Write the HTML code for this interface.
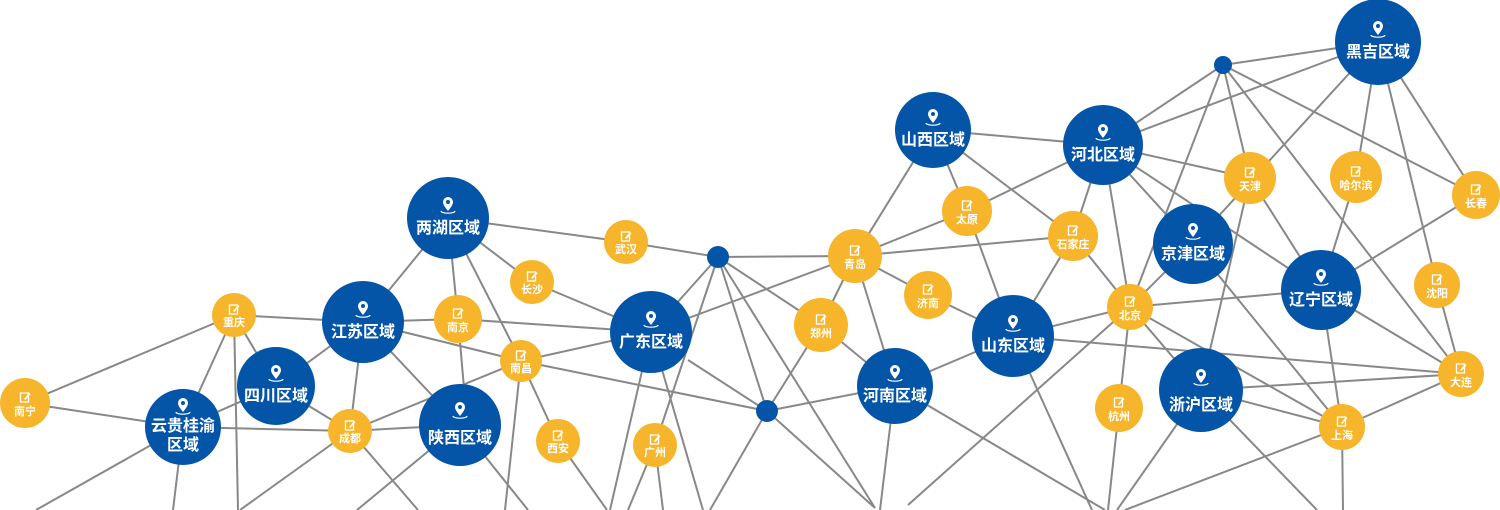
<!DOCTYPE html>
<html><head><meta charset="utf-8"><style>
html,body{margin:0;padding:0;background:#fff;}
svg{display:block;}
.b text{font:bold 16px "Liberation Sans","Noto Sans CJK SC",sans-serif;fill:#fff;text-anchor:middle;}
.y text{font:bold 11px "Liberation Sans","Noto Sans CJK SC",sans-serif;fill:#fff;text-anchor:middle;}
</style></head><body>
<svg width="1500" height="510" viewBox="0 0 1500 510" xmlns="http://www.w3.org/2000/svg">
<defs>
<g id="pin"><path d="M0,5 C-4,0 -5,-2 -5,-4 A5,5 0 1 1 5,-4 C5,-2 4,0 0,5Z" fill="#fff"/><circle cx="0" cy="-4" r="2" fill="#0455A8"/><path d="M-7,5 A7,2.2 0 0 0 7,5" fill="none" stroke="#fff" stroke-width="1.2"/></g>
<g id="ed"><rect x="-4.5" y="-4" width="8" height="9" fill="none" stroke="#fff" stroke-width="1.3"/><path d="M-1,2 L4,-4 L5.5,-2.8 L0.5,3 Z" fill="#fff"/></g>
</defs>
<g stroke="#888" stroke-width="2" fill="none">
<line x1="25" y1="403" x2="234" y2="315"/><line x1="25" y1="403" x2="183" y2="427"/>
<line x1="234" y1="315" x2="363" y2="322"/><line x1="234" y1="315" x2="183" y2="427"/><line x1="234" y1="315" x2="276" y2="386"/><line x1="234" y1="315" x2="238" y2="510"/>
<line x1="183" y1="427" x2="276" y2="386"/><line x1="183" y1="427" x2="350" y2="431"/><line x1="183" y1="427" x2="36" y2="510"/><line x1="183" y1="427" x2="173" y2="510"/>
<line x1="350" y1="431" x2="460" y2="425"/><line x1="276" y1="386" x2="363" y2="322"/><line x1="276" y1="386" x2="350" y2="431"/>
<line x1="363" y1="322" x2="448" y2="218"/><line x1="363" y1="322" x2="350" y2="431"/><line x1="363" y1="322" x2="460" y2="425"/><line x1="363" y1="322" x2="458" y2="319"/><line x1="363" y1="322" x2="521" y2="361"/>
<line x1="458" y1="319" x2="651" y2="332"/><line x1="458" y1="319" x2="464" y2="388"/>
<line x1="448" y1="218" x2="458" y2="319"/><line x1="448" y1="218" x2="521" y2="361"/><line x1="448" y1="218" x2="532" y2="282"/><line x1="532" y1="282" x2="651" y2="332"/>
<line x1="448" y1="218" x2="626" y2="242"/><line x1="626" y1="242" x2="718" y2="257"/>
<line x1="350" y1="431" x2="521" y2="361"/><line x1="350" y1="431" x2="240" y2="510"/><line x1="350" y1="431" x2="418" y2="510"/>
<line x1="460" y1="425" x2="357" y2="510"/><line x1="460" y1="425" x2="528" y2="510"/>
<line x1="521" y1="361" x2="651" y2="332"/><line x1="521" y1="361" x2="767" y2="411"/><line x1="521" y1="361" x2="505" y2="510"/><line x1="521" y1="361" x2="558" y2="441"/><line x1="558" y1="441" x2="607" y2="510"/>
<line x1="651" y1="332" x2="718" y2="257"/><line x1="651" y1="332" x2="855" y2="256"/><line x1="651" y1="332" x2="610" y2="510"/><line x1="651" y1="332" x2="703" y2="510"/><line x1="688" y1="360" x2="767" y2="411"/>
<line x1="655" y1="445" x2="718" y2="257"/><line x1="655" y1="445" x2="628" y2="510"/><line x1="655" y1="445" x2="663" y2="510"/>
<line x1="718" y1="257" x2="855" y2="256"/><line x1="718" y1="257" x2="821" y2="325"/><line x1="718" y1="257" x2="767" y2="411"/><line x1="718" y1="257" x2="875" y2="508"/>
<line x1="767" y1="411" x2="895" y2="386"/><line x1="767" y1="411" x2="821" y2="325"/><line x1="767" y1="411" x2="710" y2="510"/><line x1="767" y1="411" x2="875" y2="508"/>
<line x1="821" y1="325" x2="855" y2="256"/><line x1="821" y1="325" x2="895" y2="386"/>
<line x1="855" y1="256" x2="933" y2="130"/><line x1="855" y1="256" x2="967" y2="211"/><line x1="855" y1="256" x2="1073" y2="236"/><line x1="855" y1="256" x2="928" y2="295"/><line x1="855" y1="256" x2="895" y2="386"/>
<line x1="928" y1="295" x2="1013" y2="336"/><line x1="967" y1="211" x2="1013" y2="336"/><line x1="967" y1="211" x2="1103" y2="145"/>
<line x1="933" y1="130" x2="1103" y2="145"/><line x1="933" y1="130" x2="967" y2="211"/><line x1="933" y1="130" x2="1073" y2="236"/>
<line x1="895" y1="386" x2="1013" y2="336"/><line x1="895" y1="386" x2="1105" y2="510"/><line x1="895" y1="386" x2="880" y2="510"/>
<line x1="1013" y1="336" x2="1073" y2="236"/><line x1="1013" y1="336" x2="1130" y2="307"/><line x1="1013" y1="336" x2="1461" y2="374"/><line x1="1013" y1="336" x2="1092" y2="510"/>
<line x1="908" y1="505" x2="1130" y2="307"/>
<line x1="1073" y1="236" x2="1130" y2="307"/><line x1="1073" y1="236" x2="1103" y2="145"/>
<line x1="1130" y1="307" x2="1103" y2="145"/><line x1="1130" y1="307" x2="1193" y2="244"/><line x1="1130" y1="307" x2="1321" y2="290"/><line x1="1130" y1="307" x2="1342" y2="427"/><line x1="1130" y1="307" x2="1119" y2="408"/><line x1="1130" y1="307" x2="1201" y2="390"/><line x1="1130" y1="307" x2="1223" y2="65"/>
<line x1="1103" y1="145" x2="1223" y2="65"/><line x1="1103" y1="145" x2="1378" y2="42"/><line x1="1103" y1="145" x2="1250" y2="178"/><line x1="1103" y1="145" x2="1321" y2="290"/><line x1="1103" y1="145" x2="1193" y2="244"/>
<line x1="1223" y1="65" x2="1378" y2="42"/><line x1="1223" y1="65" x2="1250" y2="178"/><line x1="1223" y1="65" x2="1476" y2="195"/><line x1="1223" y1="65" x2="1461" y2="374"/>
<line x1="1378" y1="42" x2="1193" y2="244"/><line x1="1378" y1="42" x2="1356" y2="177"/><line x1="1356" y1="177" x2="1321" y2="290"/><line x1="1378" y1="42" x2="1437" y2="285"/><line x1="1378" y1="42" x2="1476" y2="195"/>
<line x1="1437" y1="285" x2="1461" y2="374"/><line x1="1476" y1="195" x2="1321" y2="290"/>
<line x1="1250" y1="178" x2="1321" y2="290"/><line x1="1250" y1="178" x2="1210" y2="350"/>
<line x1="1193" y1="244" x2="1342" y2="427"/><line x1="1321" y1="290" x2="1461" y2="374"/><line x1="1321" y1="290" x2="1342" y2="427"/>
<line x1="1201" y1="390" x2="1461" y2="374"/><line x1="1201" y1="390" x2="1342" y2="427"/><line x1="1461" y1="374" x2="1342" y2="427"/>
<line x1="1342" y1="427" x2="1125" y2="510"/><line x1="1342" y1="427" x2="1343" y2="510"/>
<line x1="1201" y1="390" x2="1117" y2="510"/><line x1="1201" y1="390" x2="1317" y2="510"/><line x1="1119" y1="408" x2="1108" y2="510"/>
</g>
<g fill="#0455A8"><circle cx="718" cy="257" r="11"/><circle cx="767" cy="411" r="11"/><circle cx="1223" cy="65" r="9"/></g>
<g class="b" fill="#0455A8">
<g transform="translate(1378,42)"><circle r="43"/><use href="#pin" y="-12"/><text y="15">黑吉区域</text></g>
<g transform="translate(933,130)"><circle r="38"/><use href="#pin" y="-12"/><text y="15">山西区域</text></g>
<g transform="translate(1103,145)"><circle r="40"/><use href="#pin" y="-12"/><text y="15">河北区域</text></g>
<g transform="translate(448,218)"><circle r="41"/><use href="#pin" y="-12"/><text y="15">两湖区域</text></g>
<g transform="translate(1193,244)"><circle r="40"/><use href="#pin" y="-12"/><text y="15">京津区域</text></g>
<g transform="translate(1321,290)"><circle r="40"/><use href="#pin" y="-12"/><text y="15">辽宁区域</text></g>
<g transform="translate(363,322)"><circle r="41"/><use href="#pin" y="-12"/><text y="15">江苏区域</text></g>
<g transform="translate(651,332)"><circle r="41"/><use href="#pin" y="-12"/><text y="15">广东区域</text></g>
<g transform="translate(1013,336)"><circle r="41"/><use href="#pin" y="-12"/><text y="15">山东区域</text></g>
<g transform="translate(276,386)"><circle r="39"/><use href="#pin" y="-12"/><text y="15">四川区域</text></g>
<g transform="translate(895,386)"><circle r="38"/><use href="#pin" y="-12"/><text y="15">河南区域</text></g>
<g transform="translate(1201,390)"><circle r="42"/><use href="#pin" y="-12"/><text y="20">浙沪区域</text></g>
<g transform="translate(460,425)"><circle r="41"/><use href="#pin" y="-14"/><text y="18">陕西区域</text></g>
<g transform="translate(183,427)"><circle r="38"/><use href="#pin" y="-20"/><text y="4">云贵桂渝</text><text y="23">区域</text></g>
</g>
<g class="y" fill="#F7B52C">
<g transform="translate(1250,178)"><circle r="26"/><use href="#ed" y="-6"/><text y="12">天津</text></g>
<g transform="translate(1356,177)"><circle r="26"/><use href="#ed" y="-6"/><text y="12">哈尔滨</text></g>
<g transform="translate(1476,195)"><circle r="24"/><use href="#ed" y="-6"/><text y="12">长春</text></g>
<g transform="translate(626,242)"><circle r="22"/><use href="#ed" y="-6"/><text y="11">武汉</text></g>
<g transform="translate(855,256)"><circle r="27"/><use href="#ed" y="-6"/><text y="12">青岛</text></g>
<g transform="translate(967,211)"><circle r="25"/><use href="#ed" y="-6"/><text y="12">太原</text></g>
<g transform="translate(1073,236)"><circle r="25"/><use href="#ed" y="-6"/><text y="12">石家庄</text></g>
<g transform="translate(532,282)"><circle r="22"/><use href="#ed" y="-6"/><text y="11">长沙</text></g>
<g transform="translate(928,295)"><circle r="24"/><use href="#ed" y="-6"/><text y="12">济南</text></g>
<g transform="translate(1437,285)"><circle r="23"/><use href="#ed" y="-6"/><text y="12">沈阳</text></g>
<g transform="translate(234,315)"><circle r="22"/><use href="#ed" y="-6"/><text y="11">重庆</text></g>
<g transform="translate(458,319)"><circle r="24"/><use href="#ed" y="-6"/><text y="12">南京</text></g>
<g transform="translate(1130,307)"><circle r="23"/><use href="#ed" y="-6"/><text y="12">北京</text></g>
<g transform="translate(821,325)"><circle r="27"/><use href="#ed" y="-6"/><text y="12">郑州</text></g>
<g transform="translate(521,361)"><circle r="21"/><use href="#ed" y="-6"/><text y="11">南昌</text></g>
<g transform="translate(1461,374)"><circle r="23"/><use href="#ed" y="-6"/><text y="12">大连</text></g>
<g transform="translate(25,403)"><circle r="25"/><use href="#ed" y="-6"/><text y="12">南宁</text></g>
<g transform="translate(1119,408)"><circle r="24"/><use href="#ed" y="-6"/><text y="12">杭州</text></g>
<g transform="translate(1342,427)"><circle r="23"/><use href="#ed" y="-6"/><text y="12">上海</text></g>
<g transform="translate(350,431)"><circle r="22"/><use href="#ed" y="-6"/><text y="11">成都</text></g>
<g transform="translate(558,441)"><circle r="22"/><use href="#ed" y="-6"/><text y="11">西安</text></g>
<g transform="translate(655,445)"><circle r="22"/><use href="#ed" y="-6"/><text y="11">广州</text></g>
</g>
</svg>
</body></html>
